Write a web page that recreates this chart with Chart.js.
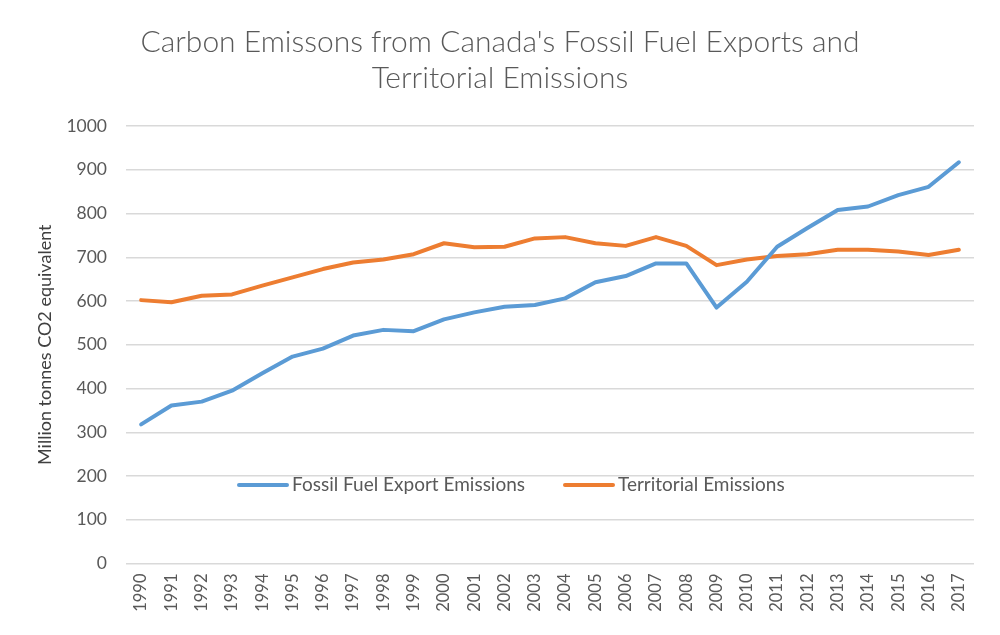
<!DOCTYPE html>
<html>
<head>
<meta charset="utf-8">
<script src="https://cdn.jsdelivr.net/npm/chart.js@4.4.1/dist/chart.umd.min.js"></script>
<style>
  html, body { margin: 0; padding: 0; background: #ffffff; }
  #wrap { width: 1000px; height: 635px; }
</style>
</head>
<body>
<div id="wrap"><canvas id="c" width="1000" height="635"></canvas></div>
<script>
const titleLines = ["Carbon Emissons from Canada's Fossil Fuel Exports and", "Territorial Emissions"];
const yAxisTitle = "Million tonnes CO2 equivalent";
const years = ["1990","1991","1992","1993","1994","1995","1996","1997","1998","1999","2000","2001","2002","2003","2004","2005","2006","2007","2008","2009","2010","2011","2012","2013","2014","2015","2016","2017"];
const exportEmissions = [318,361,370,395,435,473,491,521,534,531,558,574,587,591,606,643,657,686,686,585,644,724,767,808,816,842,861,917];
const territorialEmissions = [602,597,612,615,635,654,673,688,695,707,732,723,724,743,746,732,726,746,726,682,695,703,707,717,717,713,705,717];
const seriesNames = ["Fossil Fuel Export Emissions", "Territorial Emissions"];
const seriesColors = ["#5b9bd5", "#ed7d31"];

const FONT = "Lato, 'Open Sans', sans-serif";
const GRAY = "#595959";

const titlePlugin = {
  id: 'customTitle',
  afterDraw(chart) {
    const ctx = chart.ctx;
    ctx.save();
    ctx.fillStyle = GRAY;
    ctx.font = "300 30px " + FONT;
    ctx.textAlign = 'center';
    ctx.textBaseline = 'middle';
    ctx.fillText(titleLines[0], 500, 42);
    ctx.fillText(titleLines[1], 500, 78);
    ctx.restore();
  }
};

const legendPlugin = {
  id: 'inlineLegend',
  afterDraw(chart) {
    const ctx = chart.ctx;
    const y = 485;
    const starts = [239, 565];
    ctx.save();
    ctx.font = "19px " + FONT;
    ctx.textBaseline = 'middle';
    ctx.textAlign = 'left';
    chart.data.datasets.forEach((ds, i) => {
      const x = starts[i];
      ctx.strokeStyle = ds.borderColor;
      ctx.lineWidth = 4;
      ctx.lineCap = 'round';
      ctx.beginPath();
      ctx.moveTo(x, y);
      ctx.lineTo(x + 48, y);
      ctx.stroke();
      ctx.fillStyle = GRAY;
      ctx.fillText(ds.label, x + 53, y);
    });
    ctx.restore();
  }
};

new Chart(document.getElementById('c'), {
  type: 'line',
  data: {
    labels: years,
    datasets: [
      { label: seriesNames[0], data: exportEmissions, borderColor: seriesColors[0], backgroundColor: seriesColors[0], borderWidth: 4, pointRadius: 0, tension: 0, borderJoinStyle: 'round', borderCapStyle: 'round' },
      { label: seriesNames[1], data: territorialEmissions, borderColor: seriesColors[1], backgroundColor: seriesColors[1], borderWidth: 4, pointRadius: 0, tension: 0, borderJoinStyle: 'round', borderCapStyle: 'round' }
    ]
  },
  options: {
    responsive: false,
    animation: false,
    layout: { padding: { top: 126, right: 26, left: 0, bottom: 0 } },
    plugins: {
      legend: { display: false },
      title: { display: false },
      tooltip: { enabled: false }
    },
    scales: {
      x: {
        offset: true,
        grid: { display: false, drawTicks: false },
        border: { display: false },
        ticks: { color: GRAY, font: { family: FONT, size: 16.5 }, minRotation: 90, maxRotation: 90, autoSkip: false, padding: 10 },
        afterFit(scale) { scale.height = 71.5; }
      },
      y: {
        min: 0, max: 1000,
        grid: { color: '#d9d9d9', lineWidth: 1.5, drawTicks: false },
        border: { display: false },
        ticks: { stepSize: 100, color: GRAY, font: { family: FONT, size: 17.5 }, padding: 19, callback: (v) => String(v) },
        title: { display: true, text: yAxisTitle, color: '#404040', font: { family: FONT, size: 18 }, padding: { top: 34, bottom: 0 } },
        afterFit(scale) { scale.width = 126; }
      }
    }
  },
  plugins: [titlePlugin, legendPlugin]
});
</script>
</body>
</html>
